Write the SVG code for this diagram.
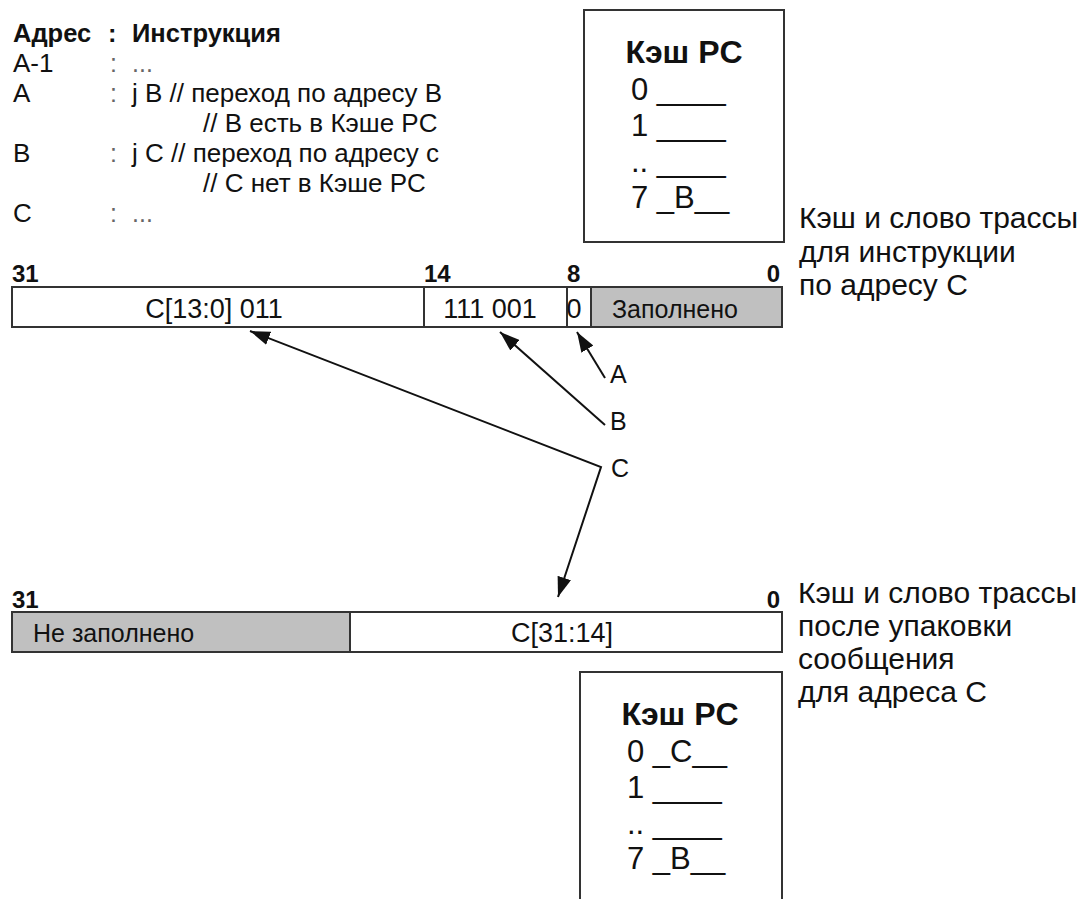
<svg xmlns="http://www.w3.org/2000/svg" width="1089" height="899" viewBox="0 0 1089 899">
<style>
text { font-family: "Liberation Sans", Arial, sans-serif; fill: #111; }
.lst { font-size: 26px; }
.hdr { font-size: 25.5px; font-weight: bold; }
.dim { font-size: 25px; fill: #666; }
.bit { font-size: 24px; font-weight: bold; }
.cell { font-size: 25px; }
.num { font-size: 27px; }
.ctitle { font-size: 32px; font-weight: bold; }
.crow { font-size: 31px; }
.note { font-size: 30px; }
.lbl { font-size: 25px; }
.box { fill: #fff; stroke: #333; stroke-width: 2; }
.gray { fill: #c0c0c0; stroke: #333; stroke-width: 2; }
.conn { fill: none; stroke: #111; stroke-width: 2; }
</style>
<defs>
<marker id="ah" markerUnits="userSpaceOnUse" markerWidth="20" markerHeight="14" refX="20" refY="7" orient="auto-start-reverse">
<path d="M0,0 L20,7 L0,14 z" fill="#111"/>
</marker>
</defs>

<g id="listing">
<text class="hdr" x="13" y="42">Адрес</text>
<text class="hdr" x="108" y="42">:</text>
<text class="hdr" x="132" y="42">Инструкция</text>
<text class="lst" x="13" y="72">A-1</text>
<text class="dim" x="110" y="72">:</text>
<text class="dim" x="132" y="72">...</text>
<text class="lst" x="13" y="102">A</text>
<text class="dim" x="110" y="102">:</text>
<text class="lst" x="132" y="102">j B // переход по адресу B</text>
<text class="lst" x="203" y="132">// B есть в Кэше PC</text>
<text class="lst" x="13" y="162">B</text>
<text class="dim" x="110" y="162">:</text>
<text class="lst" x="132" y="162">j C // переход по адресу с</text>
<text class="lst" x="203" y="192">// C нет в Кэше PC</text>
<text class="lst" x="13" y="222">C</text>
<text class="dim" x="110" y="222">:</text>
<text class="dim" x="132" y="222">...</text>
</g>

<g id="cache-top">
<rect class="box" x="584" y="10" width="200" height="232"/>
<text class="ctitle" x="684" y="63" text-anchor="middle">Кэш PC</text>
<text class="crow" x="631" y="100">0 ____</text>
<text class="crow" x="631" y="136">1 ____</text>
<text class="crow" x="631" y="172">.. ____</text>
<text class="crow" x="631" y="208">7 _B__</text>
</g>

<g id="note-top">
<text class="note" x="799" y="228">Кэш и слово трассы</text>
<text class="note" x="799" y="262">для инструкции</text>
<text class="note" x="799" y="295">по адресу C</text>
</g>

<g id="word-top">
<text class="bit" x="12" y="282">31</text>
<text class="bit" x="424" y="282">14</text>
<text class="bit" x="567" y="282">8</text>
<text class="bit" x="780" y="282" text-anchor="end">0</text>
<rect class="box" x="12" y="287" width="412" height="40"/>
<rect class="box" x="424" y="287" width="143" height="40"/>
<rect class="box" x="567" y="287" width="24" height="40"/>
<rect class="gray" x="591" y="287" width="191" height="40"/>
<text class="num" x="214" y="318" text-anchor="middle">C[13:0] 011</text>
<text class="num" x="490" y="318" text-anchor="middle">111 001</text>
<text class="num" x="574" y="318" text-anchor="middle">0</text>
<text class="cell" x="612" y="318">Заполнено</text>
</g>

<g id="label-A"><text class="lbl" x="610" y="383">A</text></g>
<g id="label-B"><text class="lbl" x="610" y="430">B</text></g>
<g id="label-C"><text class="lbl" x="611" y="477">C</text></g>

<g id="word-bottom">
<text class="bit" x="12" y="608">31</text>
<text class="bit" x="780" y="608" text-anchor="end">0</text>
<rect class="gray" x="12" y="612" width="338" height="40"/>
<rect class="box" x="350" y="612" width="432" height="40"/>
<text class="cell" x="33" y="642">Не заполнено</text>
<text class="num" x="562" y="642" text-anchor="middle">C[31:14]</text>
</g>

<g id="note-bottom">
<text class="note" x="798" y="603">Кэш и слово трассы</text>
<text class="note" x="798" y="636">после упаковки</text>
<text class="note" x="798" y="669">сообщения</text>
<text class="note" x="798" y="702">для адреса C</text>
</g>

<g id="cache-bottom">
<rect class="box" x="580" y="672" width="202" height="240"/>
<text class="ctitle" x="680" y="725" text-anchor="middle">Кэш PC</text>
<text class="crow" x="627" y="762">0 _C__</text>
<text class="crow" x="627" y="798">1 ____</text>
<text class="crow" x="627" y="834">.. ____</text>
<text class="crow" x="627" y="869">7 _B__</text>
</g>

<g id="connectors">
<path class="conn" d="M605,378 L577,332" marker-end="url(#ah)"/>
<path class="conn" d="M605,425 L500,332" marker-end="url(#ah)"/>
<path class="conn" d="M250,331 L601,467 L558,597" marker-start="url(#ah)" marker-end="url(#ah)"/>
</g>
</svg>
